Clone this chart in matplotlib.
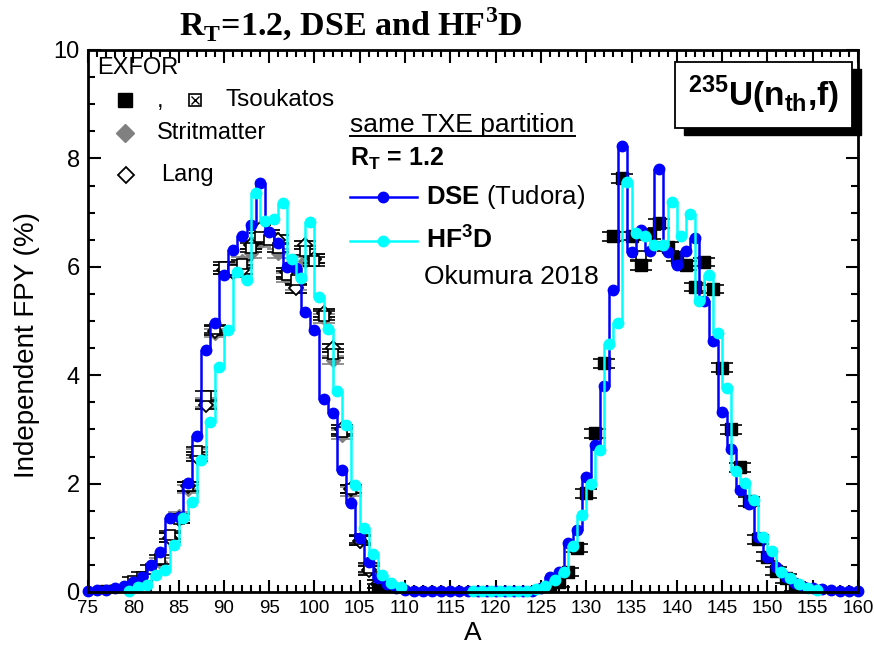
import numpy as np
import matplotlib
matplotlib.use("Agg")
import matplotlib.pyplot as plt
from matplotlib.patches import Rectangle
from matplotlib.ticker import MultipleLocator

plt.rcParams["font.family"] = ["Liberation Sans", "DejaVu Sans"]
plt.rcParams["mathtext.fontset"] = "custom"
plt.rcParams["mathtext.rm"] = "Liberation Sans"
plt.rcParams["mathtext.sf"] = "Liberation Sans:bold"
plt.rcParams["mathtext.bf"] = "Liberation Serif:bold"

# DSE (Tudora), A = 75 .. 160
dse_mass = np.arange(75, 161)
dse_fpy = [0.02, 0.03, 0.04, 0.07, 0.11, 0.19, 0.28, 0.49, 0.74, 1.36,
           1.38, 2.02, 2.88, 4.46, 4.97, 5.84, 6.31, 6.56, 6.78, 7.55,
           6.65, 6.43, 6.00, 5.98, 5.17, 4.83, 3.57, 3.30, 2.25, 1.64,
           0.99, 0.56, 0.25, 0.15, 0.07, 0.03, 0.02, 0.02, 0.02, 0.02,
           0.02, 0.02, 0.02, 0.02, 0.02, 0.02, 0.02, 0.02, 0.02, 0.02,
           0.07, 0.28, 0.37, 0.90, 1.14, 2.12, 2.71, 3.80, 5.57, 8.23,
           6.28, 6.68, 6.30, 7.80, 6.28, 6.03, 6.30, 6.53, 5.36, 4.64,
           3.33, 2.63, 1.89, 1.62, 1.01, 0.65, 0.47, 0.28, 0.17, 0.10,
           0.07, 0.05, 0.03, 0.02, 0.02, 0.02]

# HF3D (Okumura 2018), A = 79 .. 155 (no values 110-116)
hf3d_mass = np.arange(79, 156)
hf3d_fpy = [0.02, 0.10, 0.12, 0.31, 0.41, 0.87, 1.37, 1.66, 2.44, 3.14,
            4.16, 4.83, 5.91, 5.76, 7.36, 6.85, 6.88, 7.17, 6.14, 5.79,
            6.83, 5.45, 4.85, 3.71, 3.08, 1.97, 1.19, 0.70, 0.31, 0.16,
            0.09, np.nan, np.nan, np.nan, np.nan, np.nan, np.nan, np.nan,
            0.02, 0.02, 0.02, 0.02, 0.02, 0.02, 0.02, 0.06, 0.11, 0.23,
            0.37, 0.84, 1.42, 2.00, 2.62, 4.58, 4.97, 7.57, 6.63, 6.57,
            6.40, 6.40, 7.20, 6.57, 6.97, 5.36, 5.85, 4.78, 3.76, 2.24,
            2.02, 1.69, 1.01, 0.76, 0.37, 0.25, 0.14, 0.07, 0.04]
hf3d_shift = 0.5

# EXFOR data
tsouk_sq_mass = [77, 78, 107, 108, 109, 125, 126, 127, 128, 129, 130, 131,
                 132, 133, 134, 135, 136, 137, 138, 139, 140, 141, 142, 143,
                 144, 145, 146, 147, 148, 149, 150, 151, 152, 153, 154]
tsouk_sq_fpy = [0.01, 0.02, 0.06, 0.03, 0.02, 0.02, 0.06, 0.18, 0.37, 0.81,
                1.82, 2.93, 4.22, 6.56, 7.63, 6.57, 6.03, 6.60, 6.80, 6.37,
                6.19, 6.03, 5.63, 6.09, 5.59, 4.14, 3.00, 2.30, 1.67, 0.97,
                0.65, 0.39, 0.25, 0.10, 0.02]

tsouk_x_mass = [80, 81, 82, 83, 84, 85, 86, 87, 88, 89, 90, 91, 92, 93, 94,
                95, 96, 97, 98, 99, 100, 101, 102, 103, 104, 105, 106, 136]
tsouk_x_fpy = [0.20, 0.28, 0.42, 0.60, 1.05, 1.35, 1.95, 2.60, 3.62, 4.85,
               6.00, 5.95, 6.05, 6.35, 6.55, 6.50, 6.35, 5.85, 5.75, 6.30,
               6.10, 5.10, 4.40, 2.95, 1.90, 0.98, 0.45, 6.20]

strit_mass = [83, 84, 85, 86, 87, 88, 89, 90, 91, 92, 93, 94, 95, 96, 97,
              98, 99, 100, 101, 102, 103, 104, 105, 106]
strit_fpy = [0.55, 1.00, 1.40, 1.90, 2.55, 3.50, 4.78, 5.95, 6.00, 6.10,
             6.25, 6.45, 6.55, 6.25, 5.80, 5.65, 6.10, 6.15, 5.05, 4.28,
             2.90, 1.85, 0.95, 0.42]

lang_mass = [84, 85, 86, 87, 88, 89, 90, 91, 92, 93, 94, 95, 96, 97, 98,
             99, 100, 101, 102, 103, 104, 105, 106, 107]
lang_fpy = [1.00, 1.35, 1.95, 2.50, 3.45, 4.82, 5.95, 5.90, 5.95, 6.40,
            6.70, 6.60, 6.50, 5.90, 5.60, 6.40, 6.15, 5.15, 4.50, 3.00,
            1.90, 0.95, 0.40, 0.15]
exp_err = 0.08

blue = "#0000ff"
cyan = "#00ffff"

fig = plt.figure(figsize=(8.74, 6.47), dpi=100)
ax = fig.add_axes([88 / 874, 55 / 647, 770 / 874, 542 / 647])

eb = dict(yerr=exp_err, capsize=8, elinewidth=1, capthick=1.2, linestyle="none")
ax.errorbar(strit_mass, strit_fpy, fmt="D", ms=7.5, color="#808080",
            mec="#808080", ecolor="#808080", zorder=2, **eb)
ax.errorbar(lang_mass, lang_fpy, fmt="D", ms=7.5, mfc="white", mec="black",
            mew=1.3, ecolor="black", zorder=3, **eb)
ax.errorbar(tsouk_x_mass, tsouk_x_fpy, fmt="s", ms=7.5, mfc="white",
            mec="black", mew=1.2, ecolor="black", zorder=3, **eb)
ax.plot(tsouk_x_mass, tsouk_x_fpy, "x", ms=5, color="black", mew=1, zorder=3)
ax.errorbar(tsouk_sq_mass, tsouk_sq_fpy, fmt="s", ms=8.5, color="black",
            ecolor="black", zorder=3, **eb)

ax.plot(dse_mass, dse_fpy, drawstyle="steps-mid", color=blue, lw=1.8,
        marker="o", ms=7.5, zorder=4, clip_on=False)
ax.plot(hf3d_mass + hf3d_shift, hf3d_fpy, drawstyle="steps-mid", color=cyan,
        lw=1.8, marker="o", ms=7.5, zorder=5, clip_on=False)

ax.set_xlim(75, 160)
ax.set_ylim(0, 10)
ax.xaxis.set_major_locator(MultipleLocator(5))
ax.xaxis.set_minor_locator(MultipleLocator(1))
ax.yaxis.set_major_locator(MultipleLocator(2))
ax.yaxis.set_minor_locator(MultipleLocator(0.5))
ax.tick_params(which="both", direction="in", top=True, right=True, width=1.5)
ax.tick_params(which="major", length=9)
ax.tick_params(which="minor", length=5)
ax.tick_params(axis="x", labelsize=13.5, pad=6)
ax.tick_params(axis="y", labelsize=17, pad=6)
for sp in ax.spines.values():
    sp.set_linewidth(2)
    sp.set_zorder(6)

ax.set_xlabel("A", fontsize=19, labelpad=3)
ax.set_ylabel("Independent FPY (%)", fontsize=20)
ax.yaxis.set_label_coords(-0.062, 0.455)

fig.text(351 / 874, 1 - 25 / 647, r"R$_\mathbf{T}$=1.2, DSE and HF$^\mathbf{3}$D",
         family="Liberation Serif", weight="bold", fontsize=24.5,
         ha="center", va="center")

# EXFOR legend
tr = ax.transAxes
ax.text(0.0117, 0.967, "EXFOR", transform=tr, fontsize=17, va="center")
ax.plot([0.048], [0.908], "s", ms=9.5, color="black", transform=tr)
ax.text(0.089, 0.905, ",", transform=tr, fontsize=17, va="center")
ax.plot([0.139], [0.908], "s", ms=8.5, mfc="white", mec="black", mew=1.2,
        transform=tr)
ax.plot([0.139], [0.908], "x", ms=5.5, color="black", mew=1, transform=tr)
ax.text(0.178, 0.908, "Tsoukatos", transform=tr, fontsize=17.5, va="center")
ax.plot([0.048], [0.847], "D", ms=9.5, color="#808080", transform=tr)
ax.text(0.0896, 0.847, "Stritmatter", transform=tr, fontsize=17, va="center")
ax.plot([0.049], [0.769], "D", ms=8.5, mfc="white", mec="black", mew=1.3,
        transform=tr)
ax.text(0.0948, 0.769, "Lang", transform=tr, fontsize=17, va="center")

# model legend
ax.text(0.340, 0.862, "same TXE partition", transform=tr, fontsize=19,
        va="center")
ax.plot([0.340, 0.632], [0.841, 0.841], color="black", lw=1.4, transform=tr)
ax.text(0.340, 0.799, r"R$_\mathsf{T}$ = 1.2", transform=tr, fontsize=18,
        weight="bold", va="center")
ax.plot([0.340, 0.383, 0.427], [0.729] * 3, color=blue, lw=1.8, marker="o",
        ms=7.5, markevery=[1], transform=tr)
ax.text(0.439, 0.729, r"$\mathsf{DSE}$ (Tudora)", transform=tr, fontsize=18.5,
        va="center")
ax.plot([0.340, 0.383, 0.427], [0.648] * 3, color=cyan, lw=1.8, marker="o",
        ms=7.5, markevery=[1], transform=tr)
ax.text(0.439, 0.652, r"HF$^\mathsf{3}$D", transform=tr, fontsize=19,
        weight="bold", va="center")
ax.text(0.436, 0.582, "Okumura 2018", transform=tr, fontsize=19, va="center")

# reaction box with shadow
bx0, by0, bw, bh = 0.762, 0.856, 0.230, 0.122
ax.add_patch(Rectangle((bx0 + 0.012, by0 - 0.013), bw, bh, transform=tr,
                       facecolor="black", edgecolor="black", clip_on=False,
                       zorder=7))
ax.add_patch(Rectangle((bx0, by0), bw, bh, transform=tr, facecolor="white",
                       edgecolor="black", lw=1.3, clip_on=False, zorder=8))
ax.text(bx0 + bw / 2, by0 + bh / 2, r"$^\mathsf{235}$U(n$_\mathsf{th}$,f)",
        transform=tr, fontsize=24, weight="bold", ha="center", va="center",
        zorder=9)

fig.savefig("out.png", dpi=100)
